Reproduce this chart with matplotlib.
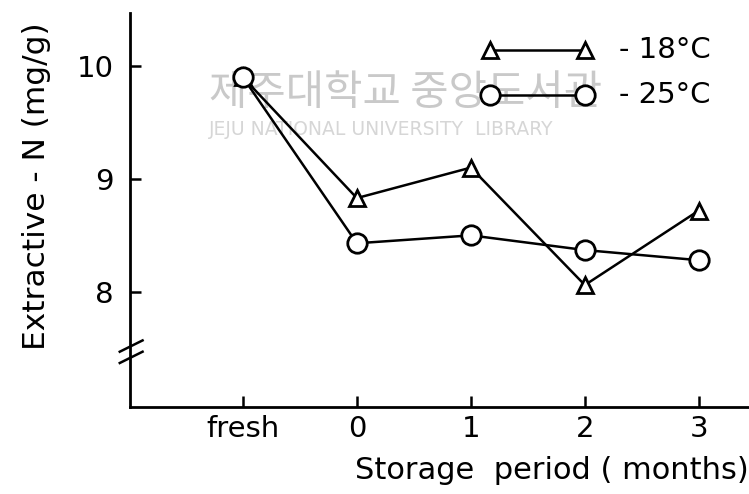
import matplotlib
import matplotlib.pyplot as plt

matplotlib.use('Agg')

plt.rcParams['font.family'] = ['DejaVu Sans', 'Noto Sans CJK KR']

# data
categories = ['fresh', '0', '1', '2', '3']
minus18 = [9.90, 8.83, 9.10, 8.06, 8.72]
minus25 = [9.90, 8.43, 8.50, 8.37, 8.28]
yticks = [8, 9, 10]

xs = list(range(len(categories)))

fig = plt.figure(figsize=(7.49, 4.94), dpi=100)
ax = fig.add_axes([0.1736, 0.176, 0.8264, 0.798])

ax.plot(xs, minus18, color='black', lw=1.8, marker='^', ms=12,
        mfc='white', mec='black', mew=2.0, zorder=3)
ax.plot(xs, minus25, color='black', lw=1.8, marker='o', ms=14,
        mfc='white', mec='black', mew=2.0, zorder=4)

ax.set_xlim(-0.99, 4.44)
ax.set_ylim(6.98, 10.47)

ax.spines['top'].set_visible(False)
ax.spines['right'].set_visible(False)
ax.spines['left'].set_linewidth(2.0)
ax.spines['bottom'].set_linewidth(2.0)

ax.set_xticks(xs)
ax.set_xticklabels(categories)
ax.set_yticks(yticks)
ax.tick_params(direction='in', length=8, width=1.8, labelsize=21, pad=6)
ax.tick_params(axis='y', pad=12)

ax.set_xlabel('Storage  period ( months)', fontsize=22, labelpad=9,
              loc='right')
ax.set_ylabel('Extractive - N (mg/g)', fontsize=22.5, labelpad=18, y=0.56)

# axis break marks
for dy in (-0.05, 0.05):
    ax.plot([-1.08, -0.88], [7.47 + dy - 0.05, 7.47 + dy + 0.05],
            color='black', lw=1.8, clip_on=False)

# legend drawn by hand like the original
ax.plot([2.17, 3.0], [10.14, 10.14], color='black', lw=1.8, marker='^',
        ms=12, mfc='white', mec='black', mew=2.0)
ax.plot([2.17, 3.0], [9.74, 9.74], color='black', lw=1.8, marker='o',
        ms=14, mfc='white', mec='black', mew=2.0)
ax.text(3.3, 10.14, '- 18°C', fontsize=21, va='center')
ax.text(3.3, 9.74, '- 25°C', fontsize=21, va='center')

# faint library watermark
ax.text(-0.3, 9.76, '제주대학교 중앙도서관', fontsize=30, color='#c9c9c9',
        va='center', family=['Noto Sans CJK KR'], zorder=1)
ax.text(-0.3, 9.44, 'JEJU NATIONAL UNIVERSITY  LIBRARY', fontsize=13.5,
        color='#d6d6d6', va='center', zorder=1)

fig.savefig('out.png', dpi=100)
